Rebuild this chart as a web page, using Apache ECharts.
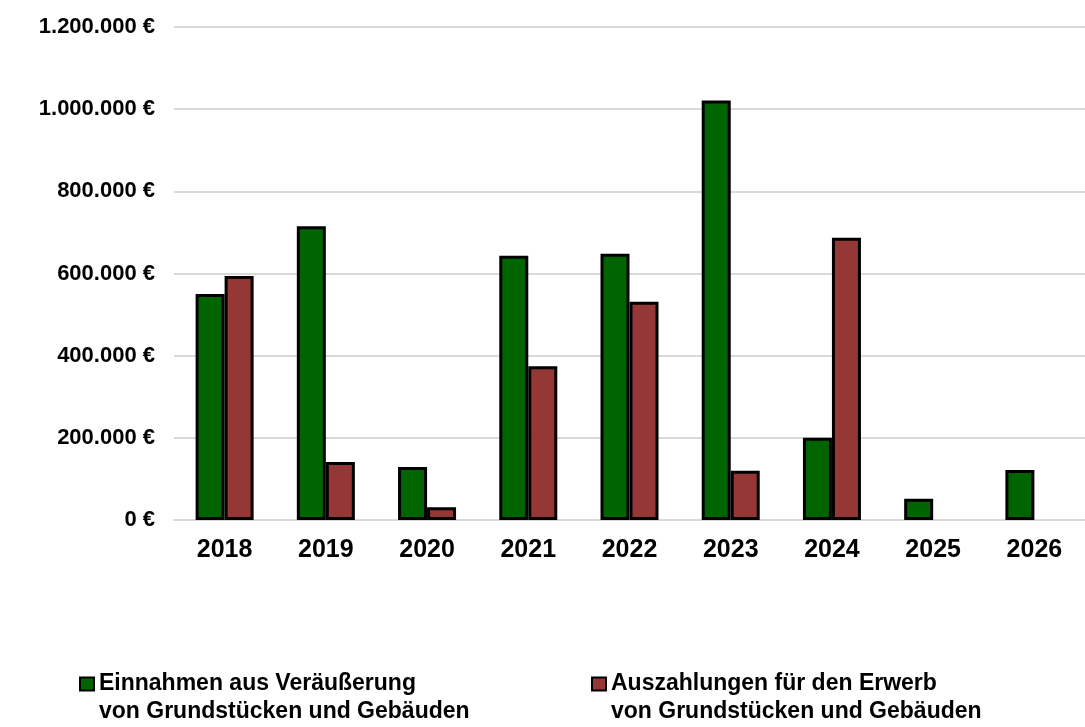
<!DOCTYPE html>
<html>
<head>
<meta charset="utf-8">
<script src="https://cdn.jsdelivr.net/npm/echarts@6/dist/echarts.min.js"></script>
<style>
  html, body { margin: 0; padding: 0; background: #fff; }
  #chart { width: 1085px; height: 727px; }
</style>
</head>
<body>
<div id="chart"></div>
<script>
// Jahre (Kategorien)
const years = ['2018', '2019', '2020', '2021', '2022', '2023', '2024', '2025', '2026']
// Einnahmen aus Veräußerung von Grundstücken und Gebäuden
const einnahmen = [550000, 715000, 129000, 643000, 648000, 1021000, 200000, 52000, 122000]
// Auszahlungen für den Erwerb von Grundstücken und Gebäuden
const auszahlungen = [594000, 141000, 31000, 374000, 531000, 120000, 687000, null, null]

const nameEin = 'Einnahmen aus Veräußerung\nvon Grundstücken und Gebäuden'
const nameAus = 'Auszahlungen für den Erwerb\nvon Grundstücken und Gebäuden'

const fontFam = '"Liberation Sans", Arial, sans-serif'
const gridColor = '#d9d9d9'

// 1200000 -> "1.200.000 €"
function euro (v) {
    return String(v).replace(/\B(?=(\d{3})+(?!\d))/g, '.') + ' €'
}

const chart = echarts.init(document.getElementById('chart'))

// Legende: Symbol auf Höhe der ersten Zeile -> leere Zeile davor
const legendBase = {
    top: 642,
    padding: 0,
    icon: 'rect',
    itemWidth: 14,
    itemHeight: 13,
    itemStyle: { borderWidth: 2, borderColor: '#000' },
    formatter: name => '\n' + name,
    textStyle: {
        color: '#000',
        fontFamily: fontFam,
        fontWeight: 'bold',
        fontSize: 23,
        lineHeight: 28
    }
}

const option = {
    animation: false,
    grid: {
        left: 174,
        top: 27,
        width: 912,
        height: 493
    },
    legend: [
        Object.assign({}, legendBase, { data: [nameEin], left: 79 }),
        Object.assign({}, legendBase, { data: [nameAus], left: 591 })
    ],
    xAxis: {
        type: 'category',
        data: years,
        axisLine: { lineStyle: { color: gridColor, width: 2 } },
        axisTick: { show: false },
        axisLabel: {
            color: '#000',
            fontFamily: fontFam,
            fontWeight: 'bold',
            fontSize: 25,
            margin: 18
        }
    },
    yAxis: {
        type: 'value',
        min: 0,
        max: 1200000,
        interval: 200000,
        axisLine: { show: false },
        axisTick: { show: false },
        splitLine: { lineStyle: { color: gridColor, width: 2 } },
        axisLabel: {
            color: '#000',
            fontFamily: fontFam,
            fontWeight: 'bold',
            fontSize: 22,
            margin: 19,
            formatter: euro
        }
    },
    series: [
        {
            name: nameEin,
            type: 'bar',
            data: einnahmen,
            barWidth: 29,
            barGap: '0%',
            itemStyle: { color: '#006400', borderColor: '#000', borderWidth: 3 }
        },
        {
            name: nameAus,
            type: 'bar',
            data: auszahlungen,
            barWidth: 29,
            itemStyle: { color: '#953735', borderColor: '#000', borderWidth: 3 }
        }
    ]
}

chart.setOption(option)
</script>
</body>
</html>
